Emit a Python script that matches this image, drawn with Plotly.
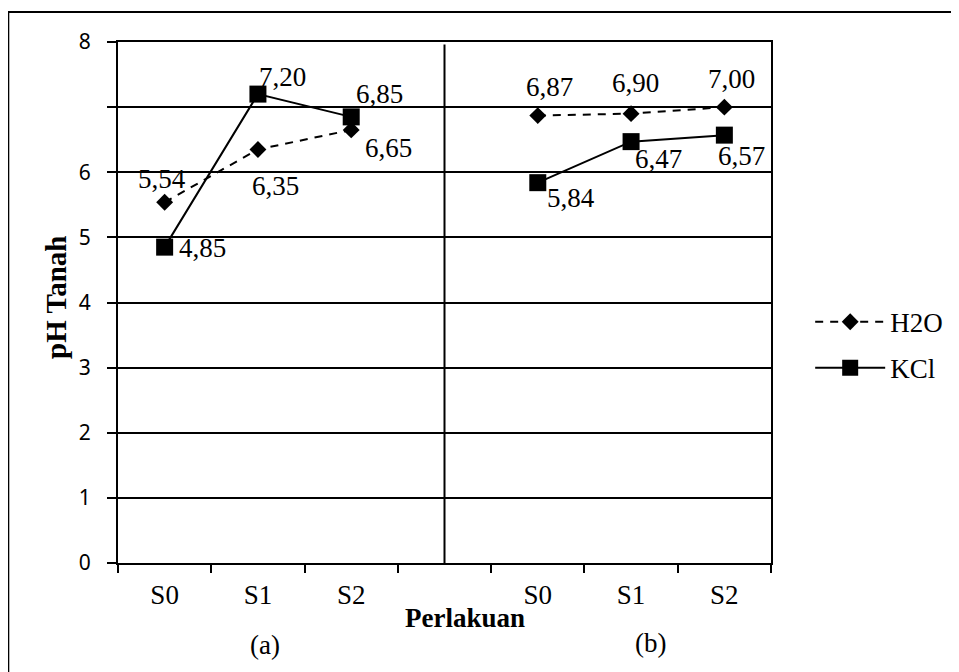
import plotly.graph_objects as go

# ---- data ----
cat_ids = ["a-S0", "a-S1", "a-S2", "gap", "b-S0", "b-S1", "b-S2"]
cat_labels = ["S0", "S1", "S2", "", "S0", "S1", "S2"]
x_a = ["a-S0", "a-S1", "a-S2"]
x_b = ["b-S0", "b-S1", "b-S2"]
h2o_a = [5.54, 6.35, 6.65]
kcl_a = [4.85, 7.20, 6.85]
h2o_b = [6.87, 6.90, 7.00]
kcl_b = [5.84, 6.47, 6.57]
y_ticks = [0, 1, 2, 3, 4, 5, 6, 7, 8]
y_ticktext = ["0", "1", "2", "3", "4", "5", "6", "", "8"]

# label offsets (px) relative to points: (dx, dy up)
off_h2o_a = [(-3, 23), (18, -37), (37, -18)]
off_kcl_a = [(38, -1), (25, 17), (28, 23)]
off_h2o_b = [(12, 29), (4, 31), (7, 28)]
off_kcl_b = [(33, -15), (27, -17), (17, -21)]

SERIF = "Liberation Serif"
SANS = "Noto Sans"

fig = go.Figure()

h2o_style = dict(mode="lines+markers", line=dict(color="black", width=2, dash="8px,7px"),
                 marker=dict(symbol="diamond", size=13, color="black"))
kcl_style = dict(mode="lines+markers", line=dict(color="black", width=2),
                 marker=dict(symbol="square", size=17, color="black"))

fig.add_trace(go.Scatter(x=x_a, y=h2o_a, name="H2O", legendgroup="h2o", showlegend=True, **h2o_style))
fig.add_trace(go.Scatter(x=x_b, y=h2o_b, name="H2O", legendgroup="h2o", showlegend=False, **h2o_style))
fig.add_trace(go.Scatter(x=x_a, y=kcl_a, name="KCl", legendgroup="kcl", showlegend=True, **kcl_style))
fig.add_trace(go.Scatter(x=x_b, y=kcl_b, name="KCl", legendgroup="kcl", showlegend=False, **kcl_style))

def fmt(v):
    return f"{v:.2f}".replace(".", ",")

annotations = []
for xs, ys, offs in [(x_a, h2o_a, off_h2o_a), (x_a, kcl_a, off_kcl_a),
                     (x_b, h2o_b, off_h2o_b), (x_b, kcl_b, off_kcl_b)]:
    for xv, yv, (dx, dy) in zip(xs, ys, offs):
        annotations.append(dict(x=xv, y=yv, xref="x", yref="y", text=fmt(yv), showarrow=False,
                                xshift=dx, yshift=dy, xanchor="center", yanchor="middle",
                                font=dict(family=SERIF, size=27, color="black")))

annotations += [
    dict(text="<b>Perlakuan</b>", x=0.531, y=-0.106, xref="paper", yref="paper", showarrow=False,
         xanchor="center", yanchor="middle", font=dict(family=SERIF, size=27, color="black")),
    dict(text="(a)", x=0.225, y=-0.157, xref="paper", yref="paper", showarrow=False,
         xanchor="center", yanchor="middle", font=dict(family=SERIF, size=27, color="black")),
    dict(text="(b)", x=0.815, y=-0.153, xref="paper", yref="paper", showarrow=False,
         xanchor="center", yanchor="middle", font=dict(family=SERIF, size=27, color="black")),
    dict(text="<b>pH Tanah</b>", x=-0.094, y=0.51, xref="paper", yref="paper", showarrow=False,
         textangle=-90, xanchor="center", yanchor="middle", font=dict(family=SERIF, size=29, color="black")),
]

shapes = [
    # separator between panels (a) and (b)
    dict(type="line", xref="x", yref="y", x0="gap", x1="gap", y0=-0.215, y1=7.96,
         line=dict(color="black", width=2)),
    # outer frame
    dict(type="rect", xref="paper", yref="paper", x0=-0.168, x1=1.6, y0=-0.4, y1=1.0576,
         line=dict(color="black", width=2), layer="below"),
]

fig.update_layout(
    width=959, height=672,
    margin=dict(l=110, r=196, t=34, b=117),
    paper_bgcolor="white", plot_bgcolor="white",
    showlegend=True,
    legend=dict(x=1.06, y=0.418, xanchor="left", yanchor="middle",
                font=dict(family=SERIF, size=27, color="black"),
                itemwidth=70, tracegroupgap=8, bgcolor="rgba(0,0,0,0)"),
    annotations=annotations,
    shapes=shapes,
    xaxis=dict(type="category", categoryorder="array", categoryarray=cat_ids,
               tickvals=cat_ids, ticktext=cat_labels, tickson="boundaries",
               range=[-0.5, 6.5], showgrid=False, zeroline=False,
               showline=True, linecolor="black", linewidth=2, mirror=True,
               ticks="outside", ticklen=8, tickwidth=2, tickcolor="black",
               ticklabelstandoff=7,
               tickfont=dict(family=SERIF, size=27, color="black")),
    yaxis=dict(range=[0, 8], tickvals=y_ticks, ticktext=y_ticktext,
               showgrid=True, gridcolor="black", gridwidth=2, zeroline=False,
               showline=True, linecolor="black", linewidth=2, mirror=True,
               ticks="outside", ticklen=9, tickwidth=2, tickcolor="black",
               ticklabelstandoff=12,
               tickfont=dict(family=SANS, size=21, color="black")),
)

fig.write_html("out.html")
